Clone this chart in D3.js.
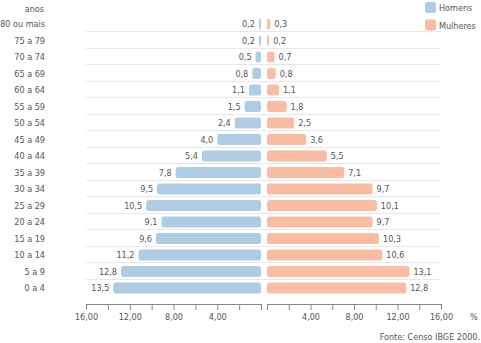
<!DOCTYPE html>
<html>
<head>
<meta charset="utf-8">
<script src="https://cdn.jsdelivr.net/npm/d3@7"></script>
<style>
  body { margin: 0; background: #fff; }
  svg text { font-family: 'DejaVu Sans Condensed', 'DejaVu Sans', sans-serif; font-stretch: condensed; font-size: 9px; fill: #555; }
</style>
</head>
<body>
<div class="graph"><svg></svg></div>
<script>
const faixas = ['80 ou mais', '75 a 79', '70 a 74', '65 a 69', '60 a 64', '55 a 59', '50 a 54',
  '45 a 49', '40 a 44', '35 a 39', '30 a 34', '25 a 29', '20 a 24', '15 a 19', '10 a 14', '5 a 9', '0 a 4']
const homens = [0.2, 0.2, 0.5, 0.8, 1.1, 1.5, 2.4, 4.0, 5.4, 7.8, 9.5, 10.5, 9.1, 9.6, 11.2, 12.8, 13.5]
const mulheres = [0.3, 0.2, 0.7, 0.8, 1.1, 1.8, 2.5, 3.6, 5.5, 7.1, 9.7, 10.1, 9.7, 10.3, 10.6, 13.1, 12.8]
const tickValues = [0, 2, 4, 6, 8, 10, 12, 14, 16]
const tickLabels = [4, 8, 12, 16]
const series = ['Homens', 'Mulheres']
const colors = ['#aecde4', '#f8bda3']

const width = 481
const height = 343
const svg = d3.select('.graph').select('svg')
  .attr('width', width)
  .attr('height', height)

const color = d3.scaleOrdinal().domain(series).range(colors)
const y = d3.scaleBand().domain(faixas).range([15.75, 296.25])
const xLeft = d3.scaleLinear().domain([0, 16]).range([261, 86])
const xRight = d3.scaleLinear().domain([0, 16]).range([267, 441])
const fmt = v => d3.format('.1f')(v).replace('.', ',')
const barH = 11

// grid lines between rows
svg.append('g').selectAll('line')
  .data(faixas.slice(0, -1))
  .join('line')
  .attr('x1', 86).attr('x2', 441)
  .attr('y1', d => Math.round(y(d) + y.bandwidth() / 2 + 7) + 0.5)
  .attr('y2', d => Math.round(y(d) + y.bandwidth() / 2 + 7) + 0.5)
  .attr('stroke', '#e8e8e8')

// category labels
svg.append('text').text('anos')
  .attr('x', 44).attr('y', 9).attr('dy', '0.35em').attr('text-anchor', 'end')
svg.append('g').selectAll('text')
  .data(faixas)
  .join('text')
  .text(d => d)
  .attr('x', 45)
  .attr('y', d => y(d) + y.bandwidth() / 2)
  .attr('dy', '0.35em')
  .attr('text-anchor', 'end')

// bars
const rows = faixas.map((f, i) => ({ f, h: homens[i], m: mulheres[i] }))
const cy = d => y(d.f) + y.bandwidth() / 2

svg.append('g').selectAll('rect')
  .data(rows)
  .join('rect')
  .attr('x', d => xLeft(d.h))
  .attr('y', d => cy(d) - barH / 2)
  .attr('width', d => xLeft(0) - xLeft(d.h))
  .attr('height', barH)
  .attr('rx', 2.5)
  .attr('fill', color('Homens'))

svg.append('g').selectAll('rect')
  .data(rows)
  .join('rect')
  .attr('x', xRight(0))
  .attr('y', d => cy(d) - barH / 2)
  .attr('width', d => xRight(d.m) - xRight(0))
  .attr('height', barH)
  .attr('rx', 2.5)
  .attr('fill', color('Mulheres'))

// value labels
svg.append('g').selectAll('text')
  .data(rows)
  .join('text')
  .text(d => fmt(d.h))
  .attr('x', d => xLeft(d.h) - 4)
  .attr('y', cy)
  .attr('dy', '0.35em')
  .attr('text-anchor', 'end')

svg.append('g').selectAll('text')
  .data(rows)
  .join('text')
  .text(d => fmt(d.m))
  .attr('x', d => xRight(d.m) + 4)
  .attr('y', cy)
  .attr('dy', '0.35em')

// axes
function drawAxis (scale) {
  const g = svg.append('g')
    .attr('transform', 'translate(0, 304)')
    .call(d3.axisBottom(scale)
      .tickValues(tickValues)
      .tickSize(6)
      .tickSizeOuter(0)
      .tickPadding(4)
      .tickFormat(v => tickLabels.includes(v) ? d3.format('.2f')(v).replace('.', ',') : ''))
  g.selectAll('path, line').attr('stroke', '#888')
  g.selectAll('text').attr('font-size', null).attr('font-family', null).attr('fill', null)
}
drawAxis(xLeft)
drawAxis(xRight)

svg.append('text').text('%')
  .attr('x', 470).attr('y', 317).attr('dy', '0.35em')
svg.append('text').text('Fonte: Censo IBGE 2000.')
  .attr('x', 480).attr('y', 337).attr('dy', '0.35em').attr('text-anchor', 'end')

// legend
const legend = svg.append('g').selectAll('g')
  .data(series)
  .join('g')
  .attr('transform', (d, i) => 'translate(425, ' + (2 + i * 17.5) + ')')
legend.append('rect')
  .attr('width', 11).attr('height', 11).attr('rx', 2)
  .attr('fill', d => color(d))
legend.append('text')
  .text(d => d)
  .attr('x', 14).attr('y', 6).attr('dy', '0.35em')
</script>
</body>
</html>
